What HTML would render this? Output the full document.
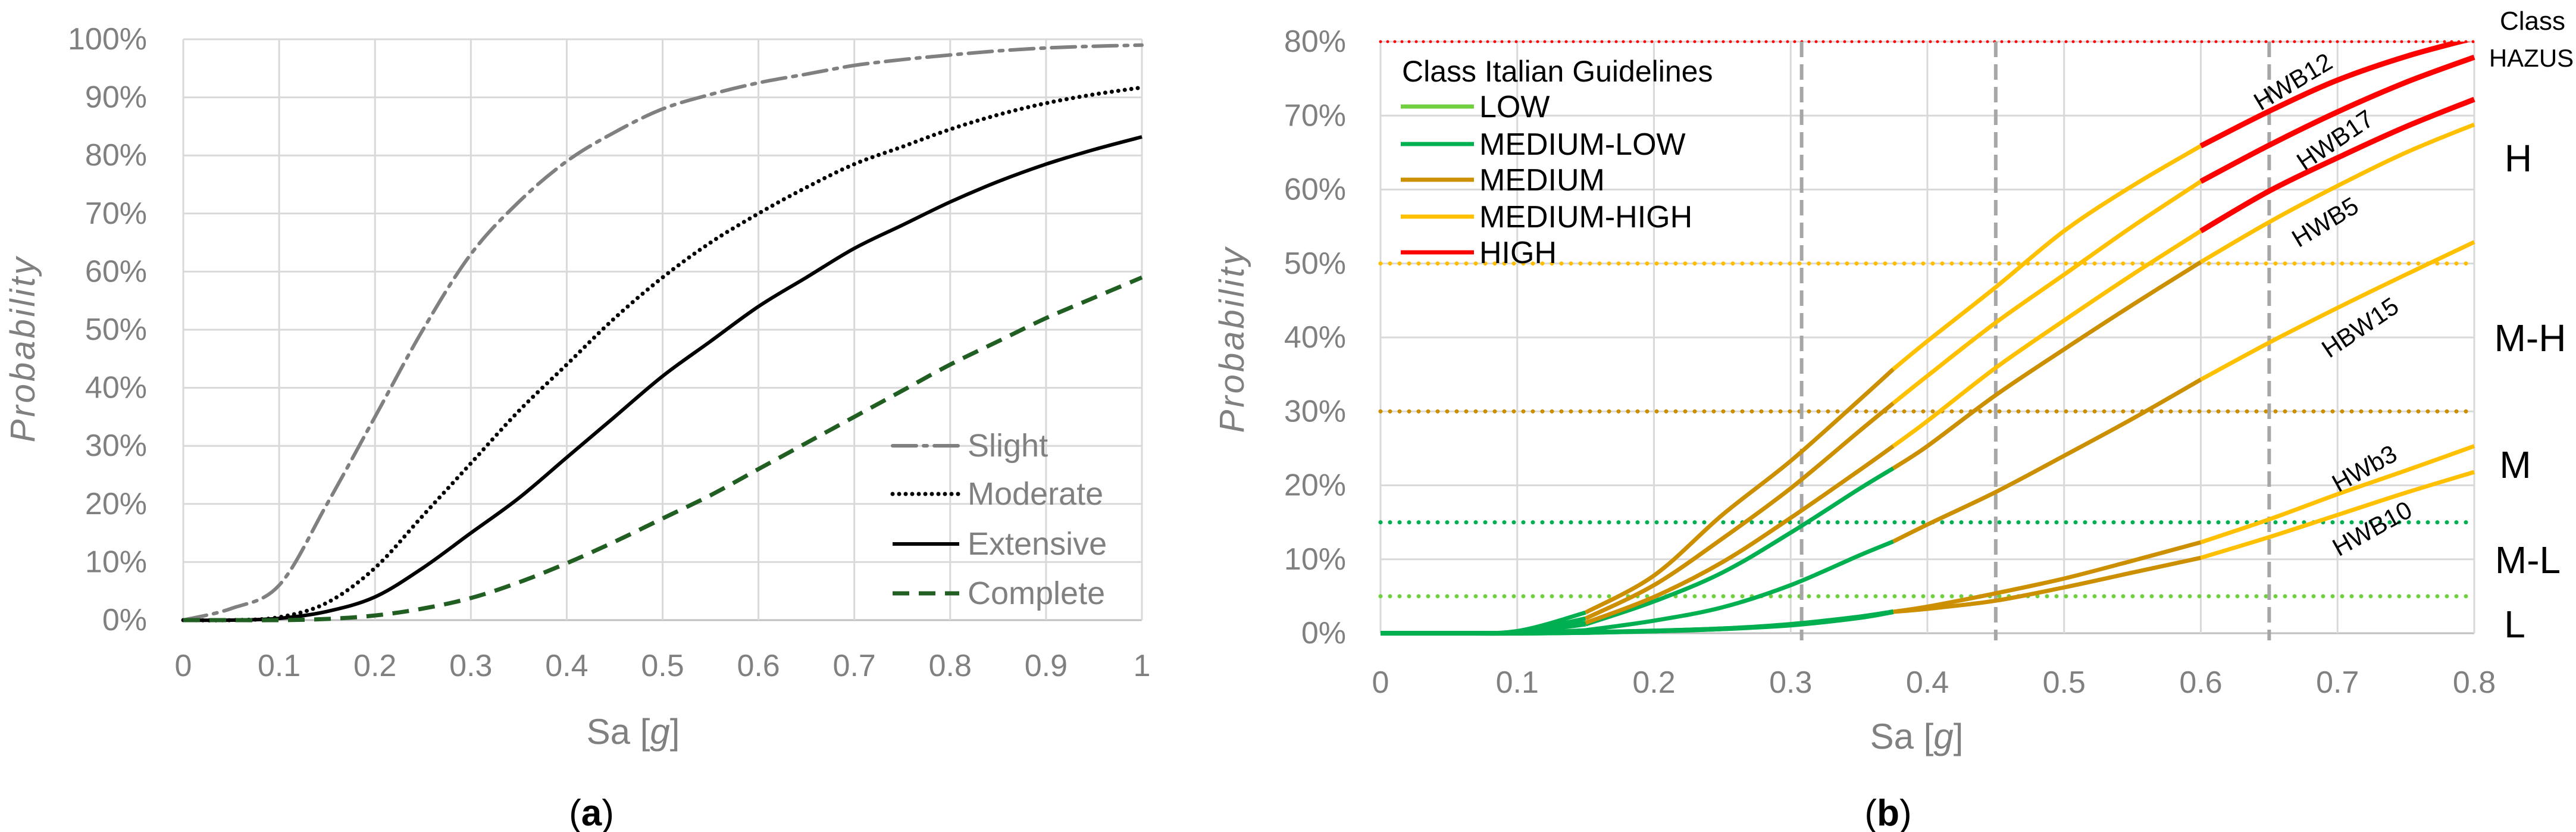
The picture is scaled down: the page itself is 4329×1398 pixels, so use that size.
<!DOCTYPE html>
<html><head><meta charset="utf-8"><style>
html,body{margin:0;padding:0;background:#fff;}
svg{display:block;}
text{font-family:"Liberation Sans Narrow","Liberation Sans",sans-serif;}
</style></head>
<body>
<svg id="svg" width="4329" height="1398" viewBox="0 0 4329 1398" xmlns="http://www.w3.org/2000/svg">
<defs><clipPath id="clipR"><rect x="2300" y="70" width="1880" height="1010"/></clipPath></defs>
<g id="left"></g>
<g id="right"></g>
</svg>
<script>
// ---------- Chart (a) data ----------
const aX = [0,0.05,0.1,0.15,0.2,0.25,0.3,0.35,0.4,0.45,0.5,0.55,0.6,0.65,0.7,0.75,0.8,0.85,0.9,0.95,1];
const aSlight = [0,2,6,20,35,50,63,72,79,84,88,90.5,92.5,94,95.5,96.5,97.3,98,98.5,98.8,99];
const aModerate = [0,0,0.5,3,9,18,27,36,44,52,59,65,70,74.5,78.5,81.5,84.5,87,89,90.5,91.7];
const aExtensive = [0,0,0.3,1.5,4,9,15,21,28,35,42,48,54,59,64,68,72,75.5,78.5,81,83.2];
const aComplete = [0,0,0,0.2,0.8,2,3.8,6.5,9.8,13.5,17.5,21.5,26,30.5,35,39.5,44,48,52,55.5,59];
const aXTicks = ["0","0.1","0.2","0.3","0.4","0.5","0.6","0.7","0.8","0.9","1"];
const aYTicks = ["0%","10%","20%","30%","40%","50%","60%","70%","80%","90%","100%"];
const aLegend = ["Slight","Moderate","Extensive","Complete"];

// ---------- Chart (b) data ----------
const bX = [0,0.05,0.1,0.15,0.2,0.25,0.3,0.35,0.375,0.4,0.45,0.5,0.55,0.6,0.65,0.7,0.75,0.8];
const bHWB12 = [0,0,0.3,2.8,7.8,16,23.3,31.5,35.7,39.5,46.8,54.4,60.5,65.9,70.6,74.8,78,80.5];
const bHWB17 = [0,0,0.2,2,6.5,12.8,19.6,27.3,31.1,34.8,42,48.5,55,61.1,66,70.5,74.5,77.9];
const bHWB5a = [0,0,0.1,1.4,4.9,9.6,15.6,22,25.3,28.7,35.9,42.3,48.5,54.4,59.8,64.3,68.5,72.2];
const bHWB5b = [0,0,0.1,1.2,4.3,8.2,13.6,19.5,22.3,25.3,32.2,38.4,44.4,50.2,55.6,60.5,65,68.8];
const bHBW15 = [0,0,0,0.4,1.7,3.5,6.5,10.5,12.4,14.7,19.1,24,29,34.3,39.3,44,48.5,52.9];
const bHWb3 = [0,0,0,0.1,0.3,0.6,1.2,2.2,2.9,3.6,5.4,7.4,9.8,12.3,15.4,18.8,22,25.3];
const bHWB10 = [0,0,0,0.1,0.3,0.6,1.1,2.1,2.9,3.3,4.4,6.2,8.2,10.2,13,16,19,21.8];
const bBreaks = [0,0.15,0.375,0.6,0.8];
const bXTicks = ["0","0.1","0.2","0.3","0.4","0.5","0.6","0.7","0.8"];
const bYTicks = ["0%","10%","20%","30%","40%","50%","60%","70%","80%"];
const bThresholds = [5,15,30,50,80];
const bVLines = [0.308,0.45,0.65];
const bLegend = ["LOW","MEDIUM-LOW","MEDIUM","MEDIUM-HIGH","HIGH"];

const NS="http://www.w3.org/2000/svg";
function mk(parent,tag,attrs,txt){const e=document.createElementNS(NS,tag);for(const k in attrs)e.setAttribute(k,attrs[k]);if(txt!==undefined)e.textContent=txt;parent.appendChild(e);return e;}
function smooth(pts){
  if(pts.length<2)return "";
  let d="M"+pts[0][0].toFixed(1)+","+pts[0][1].toFixed(1);
  for(let i=0;i<pts.length-1;i++){
    const p0=pts[Math.max(0,i-1)],p1=pts[i],p2=pts[i+1],p3=pts[Math.min(pts.length-1,i+2)];
    const c1x=p1[0]+(p2[0]-p0[0])/6,c1y=p1[1]+(p2[1]-p0[1])/6;
    const c2x=p2[0]-(p3[0]-p1[0])/6,c2y=p2[1]-(p3[1]-p1[1])/6;
    d+=" C"+c1x.toFixed(1)+","+c1y.toFixed(1)+" "+c2x.toFixed(1)+","+c2y.toFixed(1)+" "+p2[0].toFixed(1)+","+p2[1].toFixed(1);
  }
  return d;
}

// ================= Chart (a) =================
(function(){
const g=document.getElementById('left');
const X0=308,X1=1919,Y0=1042,Y1=66;
const xs=v=>X0+(X1-X0)*v, ys=v=>Y0-(Y0-Y1)*v/100;
for(let i=0;i<aYTicks.length;i++){
  const y=ys(i*10);
  const l=mk(g,'line',{x1:X0,x2:X1,y1:y,y2:y,stroke:i==0?'#BFBFBF':'#D9D9D9','stroke-width':3});
  
  
  const t=mk(g,'text',{x:247,y:y+17,'text-anchor':'end','font-size':52,fill:'#808080'},aYTicks[i]);
  
  
}
for(let i=0;i<aXTicks.length;i++){
  const x=xs(i/10);
  const l=mk(g,'line',{x1:x,x2:x,y1:Y1,y2:Y0,stroke:'#D9D9D9','stroke-width':3});
  
  
  const t=mk(g,'text',{x:x,y:1136,'text-anchor':'middle','font-size':52,fill:'#808080'},aXTicks[i]);
  
  
}
const series=[[aSlight,'#808080','40 12 6 12',6,'round'],[aModerate,'#000','0 11',7,'round'],[aExtensive,'#000','',6,'butt'],[aComplete,'#215E21','28 16',7,'butt']];
const names=['series-slight','series-moderate','series-extensive','series-complete'];
series.forEach((s,k)=>{
  const pts=aX.map((x,i)=>[xs(x),ys(s[0][i])]);
  const p=mk(g,'path',{d:smooth(pts),fill:'none',stroke:s[1],'stroke-width':s[3],'stroke-dasharray':s[2],'stroke-linecap':s[4]});
  
  
  const ly=[749,830,914,997][k];
  const ll=mk(g,'line',{x1:1500,x2:1612,y1:ly,y2:ly,stroke:s[1],'stroke-width':s[3],'stroke-dasharray':s[2],'stroke-linecap':s[4]});
  
  
  const lt=mk(g,'text',{x:1626,y:ly+18,'font-size':54,fill:'#808080'},aLegend[k]);
  
  
});
const xt=mk(g,'text',{x:1064,y:1250,'text-anchor':'middle','font-size':60,fill:'#808080'});
xt.innerHTML='Sa [<tspan font-style="italic">g</tspan>]';


const yt=mk(g,'text',{x:0,y:0,'text-anchor':'middle','font-size':58,fill:'#808080','font-style':'italic','letter-spacing':4,transform:'translate(58,586) rotate(-90)','font-family':'Liberation Sans, sans-serif'},'Probability');


const cap=mk(g,'text',{x:994,y:1387,'text-anchor':'middle','font-size':62,fill:'#000','font-family':'Liberation Serif, serif'});
cap.innerHTML='(<tspan font-weight="bold">a</tspan>)';


})();

// ================= Chart (b) =================
(function(){
const g=document.getElementById('right');
const X0=2320,X1=4158,Y0=1064,Y1=70;
const xs=v=>X0+(X1-X0)*v/0.8, ys=v=>Y0-(Y0-Y1)*v/80;
const C={L:'#70CF3C',ML:'#00B050',M:'#CC8F00',MH:'#FFC000',H:'#FF0000'};
for(let i=0;i<bYTicks.length;i++){
  const y=ys(i*10);
  const l=mk(g,'line',{x1:X0,x2:X1,y1:y,y2:y,stroke:i==0?'#BFBFBF':'#D9D9D9','stroke-width':3});
  
  
  const t=mk(g,'text',{x:2262,y:y+17,'text-anchor':'end','font-size':52,fill:'#808080'},bYTicks[i]);
  
  
}
for(let i=0;i<bXTicks.length;i++){
  const x=xs(i/10);
  const l=mk(g,'line',{x1:x,x2:x,y1:Y1,y2:Y0,stroke:'#D9D9D9','stroke-width':3});
  
  
  const t=mk(g,'text',{x:x,y:1164,'text-anchor':'middle','font-size':52,fill:'#808080'},bXTicks[i]);
  
  
}
const thColors=[C.L,C.ML,C.M,C.MH,C.H];
bThresholds.forEach((v,k)=>{
  const y=ys(v);
  const l=mk(g,'line',{x1:X0,x2:X1,y1:y,y2:y,stroke:thColors[k],'stroke-width':k==4?5:7,'stroke-dasharray':k==4?'0 12':'0 16','stroke-linecap':'round'});
  
  
});
bVLines.forEach(v=>{
  const x=xs(v);
  const l=mk(g,'line',{x1:x,x2:x,y1:Y1,y2:Y0+12,stroke:'#A6A6A6','stroke-width':6,'stroke-dasharray':'26 12'});
  
  
});
const curves=[[bHWB10,['ML','ML','M','MH'],'curve-hwb10'],[bHWb3,['ML','ML','M','MH'],'curve-hwb3'],[bHBW15,['ML','ML','M','MH'],'curve-hbw15'],[bHWB5b,['ML','ML','M','MH'],'curve-hwb5'],[bHWB5a,['ML','M','MH','H'],'curve-hwb17-low'],[bHWB17,['ML','M','MH','H'],'curve-hwb17'],[bHWB12,['ML','M','MH','H'],'curve-hwb12']];
const cg=mk(g,'g',{'clip-path':'url(#clipR)'});
curves.forEach(c=>{
  for(let s=0;s<4;s++){
    const pts=[];
    bX.forEach((x,i)=>{if(x>=bBreaks[s]-1e-9&&x<=bBreaks[s+1]+1e-9)pts.push([xs(x),ys(c[0][i])]);});
    const col=c[1][s];
    const p=mk(cg,'path',{d:smooth(pts),fill:'none',stroke:C[col],'stroke-width':col=='H'?9:(col=='ML'&&c[0][8]<5?8:7),'stroke-linecap':'butt'});
    
    
  }
});
// legend
const lt0=mk(g,'text',{x:2356,y:137,'font-size':50,fill:'#000'},'Class Italian Guidelines');


const lyv=[179,242,302,364,424];
bLegend.forEach((n,k)=>{
  const l=mk(g,'line',{x1:2354,x2:2477,y1:lyv[k],y2:lyv[k],stroke:thColors[k],'stroke-width':7});
  
  
  const t=mk(g,'text',{x:2486,y:lyv[k]+18,'font-size':52,fill:'#000'},n);
  
  
});
// curve labels
const labs=[['HWB12',3855,140,-31],['HWB17',3926,238,-34],['HWB5',3909,376,-31],['HBW15',3968,553,-34],['HWb3',3975,790,-29],['HWB10',3988,891,-29]];
labs.forEach(L=>{
  const t=mk(g,'text',{x:0,y:0,'text-anchor':'middle','font-size':42,fill:'#000',transform:'translate('+L[1]+','+L[2]+') rotate('+L[3]+')','dominant-baseline':'middle'},L[0]);
  
  
});
// right labels
const rl=[['Class',4256,50,44],['HAZUS',4254,112,42],['H',4232,288,64],['M-H',4252,590,64],['M',4227,803,64],['M-L',4248,963,64],['L',4226,1071,64]];
rl.forEach(r=>{
  const t=mk(g,'text',{x:r[1],y:r[2],'text-anchor':'middle','font-size':r[3],fill:'#000'},r[0]);
  
  
});
const xt=mk(g,'text',{x:3221,y:1258,'text-anchor':'middle','font-size':60,fill:'#808080'});
xt.innerHTML='Sa [<tspan font-style="italic">g</tspan>]';


const yt=mk(g,'text',{x:0,y:0,'text-anchor':'middle','font-size':58,fill:'#808080','font-style':'italic','letter-spacing':4,transform:'translate(2090,570) rotate(-90)','font-family':'Liberation Sans, sans-serif'},'Probability');


const cap=mk(g,'text',{x:3173,y:1387,'text-anchor':'middle','font-size':62,fill:'#000','font-family':'Liberation Serif, serif'});
cap.innerHTML='(<tspan font-weight="bold">b</tspan>)';


})();
</script>
</body></html>
